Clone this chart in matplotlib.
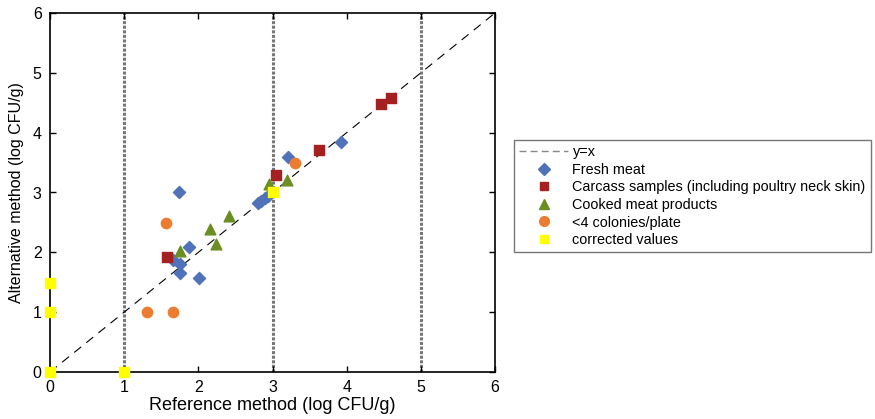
import matplotlib.pyplot as plt
from matplotlib.lines import Line2D

plt.rcParams['font.family'] = ['Liberation Sans', 'DejaVu Sans']

# fresh meat (blue diamonds)
fresh_x = [1.74, 1.87, 1.66, 1.75, 1.75, 2.01, 2.80, 2.85, 2.90, 2.94, 3.21, 3.92]
fresh_y = [3.01, 2.09, 1.87, 1.81, 1.66, 1.57, 2.82, 2.86, 2.90, 2.94, 3.60, 3.85]

# carcass samples (red squares)
carcass_x = [1.58, 3.05, 3.63, 4.46, 4.60]
carcass_y = [1.92, 3.29, 3.71, 4.48, 4.58]

# cooked meat products (green triangles)
cooked_x = [1.75, 2.16, 2.24, 2.41, 2.95, 3.19]
cooked_y = [2.02, 2.39, 2.14, 2.61, 3.14, 3.21]

# <4 colonies/plate (orange circles)
few_x = [1.56, 1.31, 1.66, 3.31]
few_y = [2.49, 1.00, 1.00, 3.49]

# corrected values (yellow squares)
corr_x = [0, 0, 0, 1, 3.0]
corr_y = [0, 1.0, 1.49, 0, 3.0]

vlines = [1, 3, 5]

fig = plt.figure(figsize=(8.75, 4.19), dpi=100)
ax = fig.add_axes([50 / 875, 1 - 372 / 419, 445 / 875, 359 / 419])

for xv in vlines:
    ax.axvline(xv, color='#777777', lw=2.2, ls=(0, (1, 0.5)), zorder=1)

ax.plot([0, 6], [0, 6], color='black', lw=0.8, ls=(0, (8, 6)), zorder=2)

ax.scatter(fresh_x, fresh_y, marker='D', s=38, color='#4f72b8', zorder=3, clip_on=False)
ax.scatter(carcass_x, carcass_y, marker='s', s=45, color='#a52020', zorder=3, clip_on=False)
ax.scatter(cooked_x, cooked_y, marker='^', s=60, color='#6b8e23', zorder=3, clip_on=False)
ax.scatter(few_x, few_y, marker='o', s=55, color='#ec7c30', zorder=3, clip_on=False)
ax.scatter(corr_x, corr_y, marker='s', s=42, color='#ffff00', zorder=4, clip_on=False)

ax.set_xlim(0, 6)
ax.set_ylim(0, 6)
ax.set_xticks(range(7))
ax.set_yticks(range(7))
ax.tick_params(direction='in', top=True, right=True, labelsize=11.5, length=4, width=1)
ax.tick_params(axis='x', pad=6)
ax.tick_params(axis='y', pad=6)
for s in ax.spines.values():
    s.set_linewidth(1.2)
ax.set_xlabel('Reference method (log CFU/g)', fontsize=13, labelpad=1)
ax.set_ylabel('Alternative method (log CFU/g)', fontsize=11.5, labelpad=6)

handles = [
    Line2D([], [], color='#888888', lw=1, ls=(0, (5, 3))),
    Line2D([], [], marker='D', color='#4f72b8', ls='none', ms=6),
    Line2D([], [], marker='s', color='#a52020', ls='none', ms=6),
    Line2D([], [], marker='^', color='#6b8e23', ls='none', ms=7),
    Line2D([], [], marker='o', color='#ec7c30', ls='none', ms=7),
    Line2D([], [], marker='s', color='#ffff00', ls='none', ms=6),
]
labels = ['y=x', 'Fresh meat', 'Carcass samples (including poultry neck skin)',
          'Cooked meat products', '<4 colonies/plate', 'corrected values']
leg = fig.legend(handles, labels, loc='upper left', bbox_to_anchor=(514 / 875, 1 - 140 / 419),
                 fontsize=10.4, frameon=True, fancybox=False, edgecolor='#555555',
                 labelspacing=0.25, handlelength=3.4, handletextpad=0.3,
                 borderpad=0.35, borderaxespad=0)
leg.get_frame().set_linewidth(1)

fig.savefig('out.png', dpi=100)
